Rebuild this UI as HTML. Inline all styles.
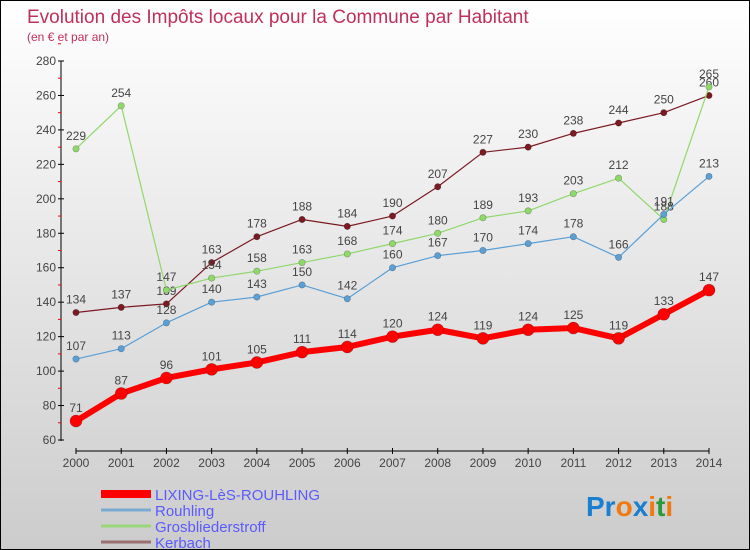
<!DOCTYPE html>
<html><head><meta charset="utf-8"><style>
body{margin:0}
#wrap{width:748px;height:548px;border:1px solid #000;background:linear-gradient(#fff,#ccc);position:relative;overflow:hidden;font-family:"Liberation Sans",sans-serif}
</style></head><body>
<div id="wrap">
<svg id="chart" width="748" height="548">
<text x="26" y="22" font-size="19" fill="#c0305a">Evolution des Impôts locaux pour la Commune par Habitant</text>
<text x="26" y="40" font-size="12" fill="#c0305a">(en € et par an)</text>
<text x="585" y="515" font-size="28" font-weight="bold"><tspan fill="#1a7fd0">Pr</tspan><tspan fill="#f07a10">o</tspan><tspan fill="#1a7fd0">x</tspan><tspan fill="#f07a10">i</tspan><tspan fill="#2a9a3a">t</tspan><tspan fill="#f07a10">i</tspan></text>
</svg>
</div>
<script>
const years=[2000,2001,2002,2003,2004,2005,2006,2007,2008,2009,2010,2011,2012,2013,2014];
const yTicks=[60,80,100,120,140,160,180,200,220,240,260,280];
const lixing=[71,87,96,101,105,111,114,120,124,119,124,125,119,133,147];
const rouhling=[107,113,128,140,143,150,142,160,167,170,174,178,166,191,213];
const grosb=[229,254,147,154,158,163,168,174,180,189,193,203,212,188,265];
const kerbach=[134,137,139,163,178,188,184,190,207,227,230,238,244,250,260];
const svg=document.getElementById('chart');
const NS='http://www.w3.org/2000/svg';
const X=i=>75+i*(708-75)/(years.length-1);
const Y=v=>439-(v-60)*(439-60)/220;
function mk(t,a,p){const e=document.createElementNS(NS,t);for(const k in a)e.setAttribute(k,a[k]);(p||svg).appendChild(e);return e;}
// axes
let g=mk('g',{});


mk('line',{x1:60,y1:60,x2:60,y2:440,stroke:'#000','stroke-width':1},g);
yTicks.forEach(v=>{
 mk('line',{x1:57,y1:Y(v),x2:63,y2:Y(v),stroke:'#000'},g);
 mk('line',{x1:57,y1:Y(v+10),x2:60,y2:Y(v+10),stroke:'#f00'},g);
 const t=mk('text',{x:55,y:Y(v)+4,'font-size':12,fill:'#444','text-anchor':'end'},g);t.textContent=v;
 
 
});
let gx=mk('g',{});


mk('line',{x1:75,y1:450,x2:708,y2:450,stroke:'#000'},gx);
years.forEach((y,i)=>{
 mk('line',{x1:X(i),y1:447,x2:X(i),y2:453,stroke:'#000'},gx);
 const t=mk('text',{x:X(i),y:466,'font-size':12,fill:'#444','text-anchor':'middle'},gx);t.textContent=y;
 
 
});
function series(data,color,w,r,name){
 const s=mk('g',{});
 
 
 mk('polyline',{points:data.map((v,i)=>X(i)+','+Y(v)).join(' '),fill:'none',stroke:color,'stroke-width':w,'stroke-linejoin':'round'},s);
 data.forEach((v,i)=>{
  const c=mk('circle',{cx:X(i),cy:Y(v),r:r,fill:color,stroke:'rgba(0,0,0,0.3)','stroke-width':0.6},s);
  
  
  const t=mk('text',{x:X(i),y:Y(v)-9,'font-size':12,fill:'#444','text-anchor':'middle'},s);t.textContent=v;
  
  
 });
}
series(kerbach,'#7a1a22',1.2,3.2,'series-kerbach');
series(grosb,'#8fd86a',1.2,3.2,'series-grosbliederstroff');
series(rouhling,'#5a9fd6',1.2,3.2,'series-rouhling');
series(lixing,'#f00',6,6,'series-lixing');
const legendNames=['LIXING-LèS-ROUHLING','Rouhling','Grosbliederstroff','Kerbach'];
const legendColors=['#f00','#7aaad0','#9ad67a','#9a7070'];
const legendW=[8,3,3,3];
legendNames.forEach((n,i)=>{
 const lg=mk('g',{});
 
 
 const y=493+i*16;
 mk('line',{x1:100,y1:y,x2:150,y2:y,stroke:legendColors[i],'stroke-width':legendW[i]},lg);
 const t=mk('text',{x:154,y:y+6,'font-size':15,fill:'#5a5aff'},lg);t.textContent=n;
});
</script>
</body></html>
